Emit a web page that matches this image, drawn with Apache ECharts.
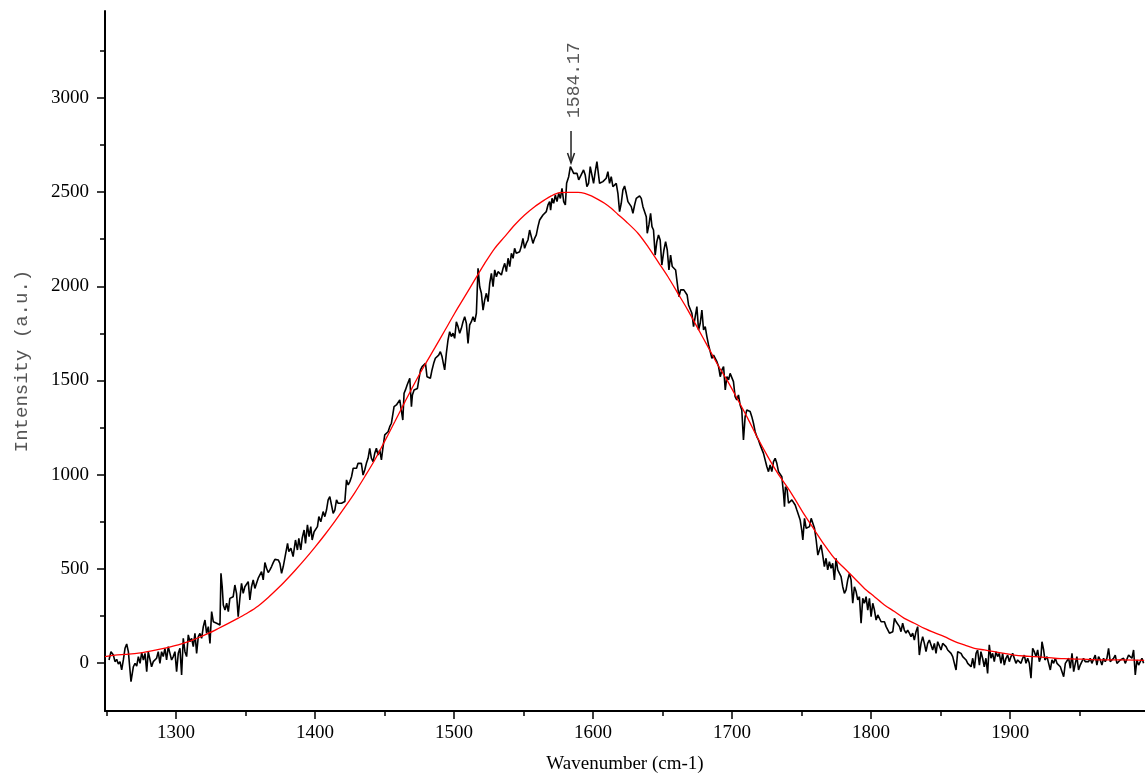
<!DOCTYPE html>
<html>
<head>
<meta charset="utf-8">
<script src="https://cdn.jsdelivr.net/npm/echarts@6/dist/echarts.min.js"></script>
<style>html,body{margin:0;padding:0;background:#fff}#c{width:1145px;height:776px}</style>
</head>
<body>
<div id="c"></div>
<script>
// Measured spectrum: [wavenumber (cm-1), intensity (a.u.)]
const spectrum = [
[1251.9,16],[1253.3,60],[1255.0,42],[1256.2,7],[1257.4,19],[1258.6,-5],[1259.8,7],[1261.0,-37],[1262.2,16],[1263.4,78],[1264.6,101],[1265.8,60],[1267.7,-99],[1269.4,-20],[1270.6,-2],[1271.8,-16],[1273.0,34],[1274.2,-2],[1275.4,55],[1276.6,16],[1277.8,51],[1279.0,-46],[1280.1,60],[1281.3,69],[1282.5,-20],[1283.7,7],[1284.9,16],[1286.1,25],[1287.3,60],[1288.5,-2],[1289.7,60],[1290.9,34],[1292.1,78],[1293.3,16],[1294.5,87],[1295.7,96],[1296.9,16],[1298.1,34],[1299.3,60],[1300.5,-46],[1301.7,51],[1302.9,78],[1304.1,-64],[1305.3,131],[1306.5,60],[1307.7,34],[1308.9,149],[1310.1,113],[1311.3,131],[1312.5,87],[1313.7,157],[1314.9,51],[1316.1,140],[1317.3,157],[1318.5,131],[1319.7,193],[1320.9,228],[1322.1,157],[1323.3,193],[1324.5,104],[1325.7,273],[1326.9,219],[1328.1,228],[1329.3,211],[1330.5,219],[1331.7,202],[1332.4,476],[1333.3,405],[1334.1,308],[1335.3,281],[1336.5,317],[1337.7,273],[1338.8,343],[1340.0,343],[1341.2,352],[1342.4,414],[1343.6,370],[1344.8,246],[1346.0,343],[1347.2,423],[1348.4,370],[1349.6,405],[1350.8,414],[1352.0,432],[1353.2,335],[1354.4,405],[1355.6,441],[1356.8,396],[1358.0,423],[1359.2,450],[1360.4,458],[1361.6,485],[1362.8,441],[1364.0,533],[1365.2,503],[1366.4,480],[1367.6,494],[1368.8,512],[1370.0,533],[1371.2,550],[1372.4,556],[1373.6,547],[1374.8,529],[1376.0,476],[1377.2,512],[1378.4,512],
[1380.3,635],[1381.2,591],[1382.7,609],[1384.3,565],[1386.0,653],[1387.4,600],[1388.4,662],[1389.8,600],[1390.8,662],[1392.2,706],[1393.2,635],[1394.6,733],[1395.8,671],[1397.0,724],[1398.0,653],[1399.4,697],[1400.4,706],[1401.8,724],[1402.8,777],[1404.2,750],[1405.9,804],[1407.1,777],[1408.3,812],[1409.5,866],[1410.7,883],[1411.9,874],[1413.1,795],[1414.3,812],[1415.5,866],[1416.7,848],[1419.1,848],[1421.5,857],[1422.7,972],[1423.9,945],[1425.1,963],[1426.3,989],[1427.5,1034],[1428.7,1043],[1429.9,1034],[1431.0,1060],[1432.2,1051],[1433.4,1060],[1434.6,998],[1435.8,1025],[1437.0,1060],[1438.2,1087],[1439.4,1140],[1440.6,1087],[1441.8,1069],[1443.0,1113],[1444.2,1140],[1445.4,1104],[1446.6,1131],[1447.8,1078],[1449.0,1149],[1450.2,1211],[1451.4,1202],[1452.6,1228],[1453.8,1255],[1455.0,1273],[1456.2,1281],[1456.9,1361],[1458.6,1370],[1459.8,1379],[1461.0,1397],[1462.2,1405],[1463.2,1290],[1464.1,1432],[1465.1,1450],[1466.3,1476],[1467.0,1485],[1468.2,1512],[1469.4,1361],[1470.1,1423],[1471.3,1450],[1472.3,1458],[1473.7,1458],[1474.7,1503],[1475.9,1556],[1477.1,1574],[1478.3,1582],[1479.5,1591],[1480.6,1520],[1481.8,1512],[1483.0,1512],[1484.2,1556],[1485.4,1591],[1486.6,1618],[1487.8,1627],[1489.0,1635],[1490.2,1653],[1491.4,1627],[1492.6,1582],
[1493.3,1556],[1494.5,1644],[1495.7,1715],[1496.9,1759],[1498.1,1733],[1499.3,1751],[1500.5,1724],[1501.7,1812],[1502.9,1786],[1504.1,1751],[1505.3,1777],[1506.5,1812],[1507.7,1839],[1508.9,1804],[1510.1,1697],[1511.3,1795],[1512.5,1812],[1513.7,1839],[1514.9,1812],[1516.1,1857],[1517.3,2096],[1518.5,1998],[1519.7,1963],[1520.9,1874],[1522.1,1928],[1523.3,1963],[1524.5,1919],[1525.7,2016],[1526.9,2069],[1528.1,1998],[1529.3,2087],[1530.5,2051],[1531.7,2078],[1532.9,2078],[1534.1,2060],[1535.3,2096],[1536.5,2122],[1537.7,2078],[1538.9,2149],[1540.1,2105],[1541.3,2175],[1542.5,2149],[1543.6,2202],[1544.8,2175],[1546.0,2166],[1547.2,2184],[1548.4,2211],[1549.6,2255],[1550.8,2202],[1552.0,2228],[1553.2,2246],[1554.4,2299],[1555.6,2264],[1556.8,2228],[1558.0,2255],[1559.2,2273],[1560.4,2317],[1561.6,2352],[1562.8,2352],[1564.0,2379],[1565.2,2370],[1566.4,2397],[1567.6,2432],[1568.8,2450],[1569.5,2405],[1570.5,2467],[1571.7,2441],[1572.9,2485],[1574.1,2450],[1575.3,2494],[1576.5,2467],[1577.7,2520],[1578.9,2450],[1580.1,2432],[1581.0,2547],[1582.5,2582],[1583.7,2636],[1584.9,2618],[1586.1,2600],[1587.3,2609],[1588.5,2600],[1589.7,2565],[1590.9,2556],[1592.0,2600],[1593.2,2618],[1594.4,2591],[1595.6,2529],[1596.8,2547],[1598.0,2636],[1599.2,2644],[1600.4,2547],[1601.6,2609],[1602.8,2662],[1604.0,2671],[1604.7,2547],[1605.9,2547],[1607.1,2556],[1608.3,2565],[1609.5,2574],[1610.7,2609],[1611.9,2547],[1613.1,2582],[1614.3,2529],
[1615.5,2520],[1616.7,2547],[1617.9,2494],[1619.1,2397],[1620.3,2441],[1621.5,2512],[1622.7,2533],[1623.9,2494],[1625.1,2450],[1626.3,2459],[1627.5,2423],[1628.7,2388],[1629.9,2432],[1631.1,2467],[1632.3,2476],[1633.5,2480],[1634.7,2467],[1635.9,2423],[1637.1,2420],[1638.3,2370],[1639.0,2282],[1640.2,2326],[1641.4,2388],[1642.4,2317],[1643.5,2299],[1644.7,2166],[1645.9,2237],[1647.1,2273],[1648.3,2246],[1649.5,2113],[1651.0,2193],[1652.2,2237],[1653.4,2193],[1654.6,2087],[1655.8,2166],[1657.0,2105],[1658.2,2113],[1659.4,2087],[1660.6,2016],[1661.8,1945],[1663.0,1981],[1664.1,1989],[1665.3,1981],[1666.5,1989],[1667.7,1954],[1668.7,1901],[1669.9,1910],[1671.1,1857],[1672.3,1786],[1673.5,1839],[1674.7,1892],[1675.9,1768],[1677.1,1804],[1678.3,1874],[1679.5,1768],[1680.7,1786],[1681.9,1733],[1683.1,1689],[1684.3,1653],[1685.5,1618],[1686.7,1635],[1687.9,1644],[1689.1,1600],[1690.3,1574],[1691.5,1520],[1692.7,1556],[1693.9,1574],[1695.1,1450],[1696.3,1520],[1697.5,1503],[1698.6,1538],[1699.8,1547],[1701.0,1494],[1702.2,1414],[1703.4,1397],[1704.6,1423],[1705.8,1370],[1707.0,1343],[1708.2,1184],[1709.4,1308],[1710.6,1343],[1711.8,1335],[1713.0,1335],[1714.2,1308],[1715.4,1273],[1716.6,1228],[1717.8,1202],[1719.0,1184],[1720.2,1158],[1721.4,1149],[1722.6,1113],[1723.8,1122],[1725.0,1043],[1726.2,1016],[1727.4,1051],[1728.6,1016],[1729.8,1069],[1731.0,1087],[1732.2,1060],[1733.4,1016],[1734.6,1016],[1735.8,989],[1737.0,901],
[1737.7,830],[1738.4,936],[1739.6,919],[1740.6,848],[1741.8,857],[1743.0,866],[1744.2,874],[1745.4,839],[1746.6,812],[1747.8,804],[1749.0,759],[1750.1,706],[1750.9,653],[1752.1,768],[1753.3,715],[1754.5,715],[1755.7,724],[1756.9,768],[1758.1,759],[1759.3,715],[1760.5,653],[1761.7,573],[1762.9,565],[1764.0,627],[1765.2,573],[1766.4,512],[1767.6,556],[1768.8,494],[1770.0,538],[1771.2,503],[1772.4,529],[1773.6,441],[1774.8,556],[1776.0,494],[1777.2,494],[1778.4,458],[1779.6,405],[1780.8,370],[1782.0,388],[1783.2,441],[1784.4,476],[1785.6,441],[1786.8,317],[1788.0,405],[1789.2,379],[1790.4,335],[1791.6,352],[1792.8,211],[1794.0,343],[1795.2,317],[1796.4,352],[1797.6,281],[1798.8,343],[1800.0,246],[1801.2,317],[1802.4,281],[1803.6,228],[1804.8,255],[1806.0,246],[1807.2,219],[1808.4,219],[1809.6,219],[1810.8,193],[1812.0,202],[1813.2,158],[1814.4,158],[1815.6,166],[1816.8,237],[1818.0,219],[1819.2,219],[1820.4,193],[1821.5,166],[1822.7,211],[1823.9,175],[1825.1,158],[1826.3,175],[1827.5,158],[1828.7,140],[1829.9,158],[1831.1,122],[1832.3,166],[1833.5,193],[1834.7,42],[1835.9,104],[1837.1,140],[1838.3,104],[1839.5,60],[1840.7,104],[1841.9,122],[1843.1,113],[1844.3,69],[1845.5,104],[1846.7,51],[1847.9,113],[1849.1,122],[1850.3,69],[1851.5,104],[1852.7,96],[1853.9,87],[1855.1,69],[1856.3,60],[1857.5,51],[1858.7,34],
[1859.9,-2],[1861.1,-37],[1862.3,60],[1863.5,69],[1864.7,51],[1865.9,34],[1867.1,25],[1868.3,16],[1869.5,-2],[1870.7,7],[1871.9,-20],[1873.1,25],[1874.3,-28],[1875.5,51],[1876.6,69],[1877.9,-11],[1879.0,60],[1880.2,25],[1881.4,-20],[1882.6,25],[1883.8,-55],[1885.0,96],[1886.2,25],[1887.4,51],[1888.6,7],[1889.8,60],[1891.0,34],[1892.2,51],[1893.4,-2],[1894.6,51],[1895.8,-11],[1897.0,25],[1898.2,42],[1899.4,7],[1900.6,34],[1901.8,51],[1903.0,42],[1904.2,-2],[1905.4,16],[1906.6,7],[1907.8,-2],[1909.0,25],[1910.2,42],[1911.4,-2],[1912.6,25],[1913.8,-2],[1915.0,-81],[1916.2,78],[1917.4,60],[1918.6,34],[1919.8,69],[1921.0,7],[1922.2,34],[1922.9,113],[1924.1,69],[1925.0,16],[1926.5,34],[1927.7,-2],[1928.9,-37],[1930.1,16],[1931.3,-2],[1932.5,25],[1933.7,-2],[1934.9,7],[1936.1,-20],[1937.3,-28],[1938.5,-73],[1939.7,-2],[1940.9,7],[1942.1,25],[1943.3,-28],[1944.5,51],[1945.7,-46],[1946.9,-2],[1948.0,34],[1949.2,-37],[1950.4,-11],[1951.6,7],[1952.8,25],[1954.0,7],[1955.2,16],[1956.4,7],[1957.6,25],[1958.8,-2],[1960.0,7],[1961.2,42],[1962.4,-11],[1963.6,34],[1964.8,16],[1966.0,-11],[1967.2,25],[1968.4,7],[1969.6,25],[1970.8,78],[1972.0,7],[1973.2,16],[1974.4,25],[1975.6,42],[1976.8,-2],[1978.0,7],[1979.2,16],[1980.4,7],[1981.6,25],[1982.8,-2],[1984.0,-11],[1985.2,42],[1986.4,51],[1987.6,25],[1988.8,69],[1990.0,-64],[1991.2,16],[1992.4,-11],[1993.6,-2],[1994.8,25],[1996.0,-2]
];

// Fitted band: [wavenumber, intensity]
const fit = [
[1249,34],[1256.2,42],[1263.4,46],[1273,52],[1282.5,64],[1292.1,79],[1301.7,96],[1308.9,113],[1316.1,134],[1323.3,157],[1330.5,183],[1337.7,210],[1344.8,238],[1352,268],[1359.2,303],[1366.4,348],[1373.6,398],[1378.3,433],[1385.5,490],[1392.7,550],[1399.9,614],[1407.1,681],[1414.3,752],[1421.5,827],[1428.7,905],[1435.8,989],[1443,1078],[1450.2,1178],[1457.4,1281],[1464.6,1385],[1471.8,1487],[1479,1582],[1486.2,1673],[1493.3,1764],[1500.5,1857],[1507.7,1945],[1514.9,2034],[1522.1,2122],[1529.3,2202],[1536.5,2264],[1543.6,2326],[1550.8,2379],[1558,2423],[1565.2,2459],[1570,2480],[1576,2497],[1582,2499],[1589.2,2499],[1594,2494],[1598.8,2480],[1603.5,2462],[1608.3,2441],[1613.1,2414],[1617.9,2382],[1623.9,2343],[1632.3,2282],[1639.5,2211],[1646.7,2131],[1653.9,2051],[1661,1963],[1668.2,1874],[1675.4,1777],[1682.6,1680],[1689.8,1582],[1697,1494],[1704.2,1397],[1711.3,1299],[1718.5,1193],[1725.7,1096],[1732.9,1007],[1740.1,930],[1744.9,874],[1752.1,786],[1759.3,706],[1766.4,627],[1773.6,556],[1780.8,503],[1788,450],[1795.2,396],[1802.4,352],[1809.6,308],[1816.8,273],[1823.9,237],[1831.1,211],[1838.3,184],[1845.5,161],[1852.7,140],[1859.9,115],[1867.1,96],[1874.3,78],[1881.4,69],[1888.6,60],[1895.8,51],[1903,42],[1910.2,37],[1917.4,34],[1924.6,30],[1931.8,25],[1939,23],[1946.1,21],[1955.7,19],[1967.7,16],[1979.7,16],[1996.4,14]
];

const peakX = 1584.17;
const peakY = 2655;
const peakLabel = '1584.17';

const xMajor = [1300, 1400, 1500, 1600, 1700, 1800, 1900];
const xMinor = [1250, 1350, 1450, 1550, 1650, 1750, 1850, 1950];
const yMajor = [0, 500, 1000, 1500, 2000, 2500, 3000];
const yMinor = [250, 750, 1250, 1750, 2250, 2750, 3250];

const xRange = [1249, 1997];
const yRange = [-255, 3462];

const chart = echarts.init(document.getElementById('c'), null, {renderer: 'canvas'});
const serif = '"Liberation Serif", "Times New Roman", serif';
const mono = '"Liberation Mono", "Courier New", monospace';
const plain = function (v) { return String(Math.round(v)); };

chart.setOption({
  animation: false,
  backgroundColor: '#fff',
  grid: {left: 105, right: 0, top: 11, bottom: 65, containLabel: false, outerBoundsMode: 'none'},
  xAxis: [
    {
      type: 'value', min: xRange[0], max: xRange[1], position: 'bottom',
      name: 'Wavenumber (cm-1)', nameLocation: 'middle', nameGap: 44,
      nameTextStyle: {fontFamily: serif, fontSize: 19, color: '#000'},
      axisLine: {show: true, onZero: false, lineStyle: {color: '#000', width: 2}},
      axisTick: {show: true, inside: false, length: 8, customValues: xMajor, lineStyle: {color: '#000', width: 1.5}},
      axisLabel: {customValues: xMajor, formatter: plain, margin: 13, fontFamily: serif, fontSize: 19, color: '#000'},
      splitLine: {show: false}
    },
    {
      type: 'value', min: xRange[0], max: xRange[1], position: 'bottom', gridIndex: 0,
      axisLine: {show: false, onZero: false},
      axisTick: {show: true, inside: false, length: 5, customValues: xMinor, lineStyle: {color: '#000', width: 1.5}},
      axisLabel: {show: false},
      splitLine: {show: false}
    }
  ],
  yAxis: [
    {
      type: 'value', min: yRange[0], max: yRange[1], position: 'left',
      name: 'Intensity (a.u.)', nameLocation: 'middle', nameGap: 74,
      nameTextStyle: {fontFamily: mono, fontSize: 19, color: '#555'},
      axisLine: {show: true, onZero: false, lineStyle: {color: '#000', width: 2}},
      axisTick: {show: true, inside: false, length: 8, customValues: yMajor, lineStyle: {color: '#000', width: 1.5}},
      axisLabel: {customValues: yMajor, formatter: plain, margin: 16, fontFamily: serif, fontSize: 19, color: '#000'},
      splitLine: {show: false}
    },
    {
      type: 'value', min: yRange[0], max: yRange[1], position: 'left', gridIndex: 0,
      axisLine: {show: false, onZero: false},
      axisTick: {show: true, inside: false, length: 5, customValues: yMinor, lineStyle: {color: '#000', width: 1.5}},
      axisLabel: {show: false},
      splitLine: {show: false}
    }
  ],
  series: [
    {
      type: 'line', xAxisIndex: 0, yAxisIndex: 0, data: spectrum,
      showSymbol: false, symbol: 'none',
      lineStyle: {color: '#000', width: 1.6}, z: 2
    },
    {
      type: 'line', xAxisIndex: 0, yAxisIndex: 0, data: fit,
      showSymbol: false, symbol: 'none', smooth: 0.3,
      lineStyle: {color: '#ff0000', width: 1.3}, z: 3
    },
    {
      type: 'custom', xAxisIndex: 0, yAxisIndex: 0, data: [[peakX, peakY]],
      silent: true, clip: false, z: 4,
      renderItem: function (params, api) {
        const p = api.coord([api.value(0), api.value(1)]);
        return {
          type: 'group',
          children: [
            {type: 'line', shape: {x1: p[0], y1: p[1] - 32, x2: p[0], y2: p[1]}, style: {stroke: '#222', lineWidth: 1.5}},
            {type: 'polyline', shape: {points: [[p[0] - 3.5, p[1] - 10], [p[0], p[1]], [p[0] + 3.5, p[1] - 10]]}, style: {stroke: '#222', fill: null, lineWidth: 1.5}},
            {type: 'text', x: p[0] + 3, y: p[1] - 45, rotation: Math.PI / 2,
             style: {text: peakLabel, font: '18px ' + mono, fill: '#555', align: 'left', verticalAlign: 'middle'}}
          ]
        };
      }
    }
  ]
});
</script>
</body>
</html>
